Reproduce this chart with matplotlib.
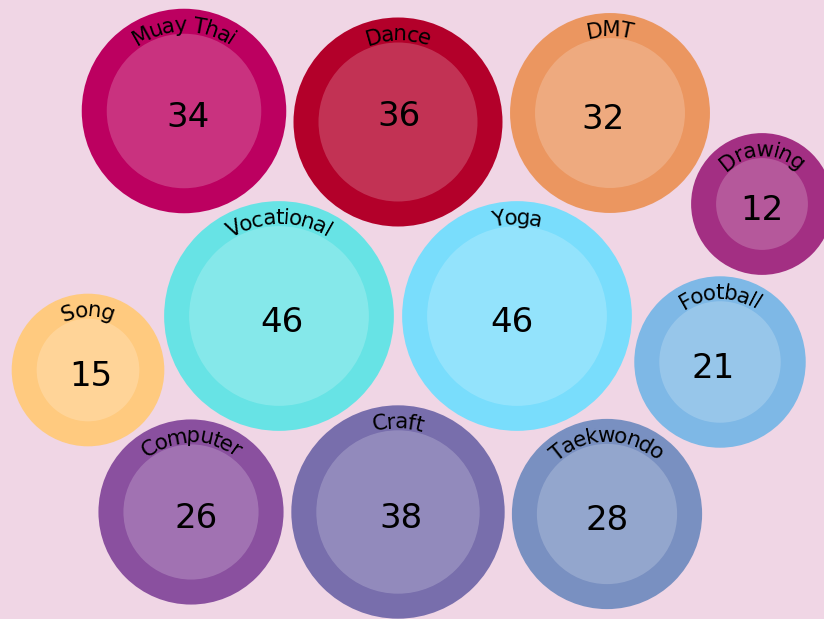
import numpy as np
import matplotlib
matplotlib.use("Agg")
import matplotlib.pyplot as plt
from matplotlib.patches import Circle
from matplotlib.font_manager import FontProperties, findfont
from matplotlib.ft2font import FT2Font

# bubble data
labels = ["Muay Thai", "Dance", "DMT", "Drawing", "Vocational", "Yoga",
          "Song", "Football", "Computer", "Craft", "Taekwondo"]
values = [34, 36, 32, 12, 46, 46, 15, 21, 26, 38, 28]
colors = ["#BC0060", "#B3002A", "#EB9660", "#A32F83", "#67E3E5", "#79DDFC",
          "#FFCA7F", "#7EB8E6", "#8A509F", "#786EAC", "#7990C1"]

# packed layout (pixel centres of each bubble)
layout_x = [184, 398, 610, 762, 279, 517, 88, 720, 191, 398, 607]
layout_y = [111, 122, 113, 204, 316, 316, 370, 362, 512, 512, 514]

W, H = 824, 619
DPI = 100
bg = "#F0D6E5"
ring = 25            # px width of the outer ring
k = 13.25            # inner radius = k * sqrt(value)
label_px = 21.5
value_px = 34
tighten = 0.88
# small offsets of the value text, as in the original
value_nudge = {"Muay Thai": (4, 0), "Dance": (1, -12), "DMT": (-7, 0),
               "Vocational": (3, 0), "Yoga": (-5, 0), "Song": (3, 0),
               "Football": (-7, 0), "Computer": (5, 0), "Craft": (3, 0)}

fig = plt.figure(figsize=(W / DPI, H / DPI), dpi=DPI)
fig.patch.set_facecolor(bg)
ax = fig.add_axes([0, 0, 1, 1])
ax.set_xlim(0, W)
ax.set_ylim(H, 0)
ax.set_aspect("equal")
ax.axis("off")

prop = FontProperties(family="DejaVu Sans")
font = FT2Font(findfont(prop))
font.set_size(label_px * 72 / DPI, DPI)


def advance(ch):
    g = font.load_char(ord(ch))
    return g.linearHoriAdvance / 65536 * tighten


def curved_label(text, cx, cy, r):
    advs = [advance(c) for c in text]
    total = sum(advs)
    s = 0
    for ch, a in zip(text, advs):
        mid = s + a / 2
        theta = np.pi / 2 + (total / 2 - mid) / r
        x = cx + r * np.cos(theta)
        y = cy - r * np.sin(theta)
        ax.text(x, y, ch, fontsize=label_px * 72 / DPI, family="DejaVu Sans",
                ha="center", va="baseline", rotation=np.degrees(theta) - 90,
                rotation_mode="anchor", color="black")
        s += a


for lab, val, col, cx, cy in zip(labels, values, colors, layout_x, layout_y):
    inner = k * np.sqrt(val)
    outer = inner + ring
    ax.add_patch(Circle((cx, cy), outer, facecolor=col, edgecolor="none"))
    ax.add_patch(Circle((cx, cy), inner, facecolor="white", alpha=0.2, edgecolor="none"))
    curved_label(lab, cx, cy, inner + 2)
    dx, dy = value_nudge.get(lab, (0, 0))
    ax.text(cx + dx, cy + 3.5 + dy + 0.729 * value_px / 2, str(val),
            fontsize=value_px * 72 / DPI, family="DejaVu Sans",
            ha="center", va="baseline", color="black")

fig.savefig("out.png", dpi=DPI, facecolor=bg)
